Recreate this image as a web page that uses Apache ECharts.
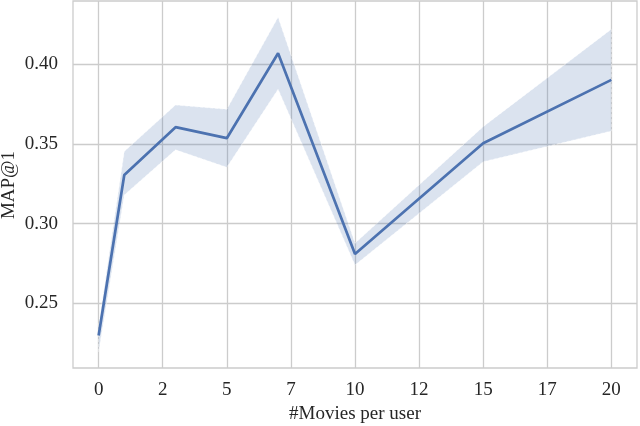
<!DOCTYPE html>
<html>
<head>
<meta charset="utf-8">
<script src="https://cdn.jsdelivr.net/npm/echarts@6/dist/echarts.min.js"></script>
<style>html,body{margin:0;padding:0;background:#fff}#c{width:640px;height:426px}</style>
</head>
<body>
<div id="c"></div>
<script>
var moviesPerUser = [0, 1, 3, 5, 7, 10, 15, 20];
var mapMean  = [0.230, 0.3305, 0.3604, 0.3535, 0.4067, 0.281, 0.3503, 0.390];
var mapLower = [0.2197, 0.318, 0.3462, 0.3353, 0.3842, 0.2741, 0.3388, 0.358];
var mapUpper = [0.236, 0.3451, 0.3743, 0.3716, 0.4292, 0.2877, 0.3607, 0.4217];
var xTicks = [0, 2.5, 5, 7.5, 10, 12.5, 15, 17.5, 20];
var yTicks = [0.25, 0.30, 0.35, 0.40];
var xTitle = '#Movies per user';
var yTitle = 'MAP@1';

var font = 'Liberation Serif, Times New Roman, serif';
var txt = '#262626';
var meanData = moviesPerUser.map(function (x, i) { return [x, mapMean[i]]; });
var bandData = moviesPerUser.map(function (x, i) { return [x, mapLower[i], mapUpper[i]]; });

var chart = echarts.init(document.getElementById('c'), null, {renderer: 'canvas'});
chart.setOption({
  backgroundColor: '#fff',
  animation: false,
  grid: {left: 73, right: 3, top: 1, bottom: 58, show: true, borderColor: '#cccccc', borderWidth: 1.3,
    backgroundColor: 'transparent', containLabel: false, outerBoundsMode: 'none'},
  graphic: [{
    type: 'text', x: 9, y: 185, rotation: Math.PI / 2, silent: true,
    style: {text: yTitle, font: '19px ' + font, fill: txt, align: 'center', verticalAlign: 'middle'}
  }],
  xAxis: {
    type: 'value', min: -1, max: 21,
    name: xTitle, nameLocation: 'middle', nameGap: 35,
    nameTextStyle: {fontFamily: font, fontSize: 19, color: txt},
    axisLine: {show: false}, axisTick: {show: false, customValues: xTicks},
    axisLabel: {customValues: xTicks, fontFamily: font, fontSize: 19, color: txt, margin: 13,
      formatter: function (v) { return String(Math.floor(v)); }},
    splitLine: {show: true, lineStyle: {color: '#cccccc', width: 1.3}}
  },
  yAxis: {
    type: 'value', min: 0.2096, max: 0.4394,
    axisLine: {show: false}, axisTick: {show: false, customValues: yTicks},
    axisLabel: {customValues: yTicks, fontFamily: font, fontSize: 19, color: txt, margin: 15,
      formatter: function (v) { return v.toFixed(2); }},
    splitLine: {show: true, lineStyle: {color: '#cccccc', width: 1.3}}
  },
  series: [
    {type: 'custom', data: bandData, silent: true, z: 1,
      renderItem: function (params, api) {
        if (params.dataIndex !== 0) return null;
        var pts = [];
        for (var i = 0; i < bandData.length; i++) pts.push(api.coord([bandData[i][0], bandData[i][2]]));
        for (var j = bandData.length - 1; j >= 0; j--) pts.push(api.coord([bandData[j][0], bandData[j][1]]));
        return {type: 'polygon', shape: {points: pts},
          style: {fill: 'rgba(76,114,176,0.2)', stroke: 'rgba(255,255,255,0.6)', lineWidth: 0.8, lineDash: [3, 2]}};
      }},
    {type: 'line', data: meanData, symbol: 'none', lineStyle: {color: '#4c72b0', width: 2.7}, z: 3}
  ]
});
</script>
</body>
</html>
